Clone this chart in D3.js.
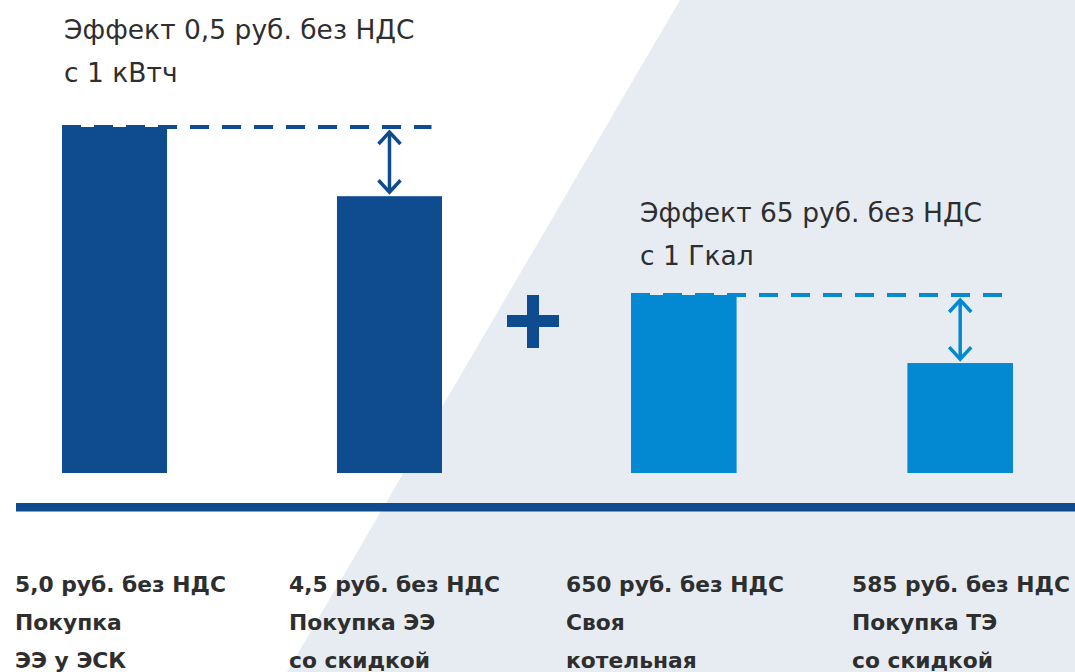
<!DOCTYPE html>
<html>
<head>
<meta charset="utf-8">
<style>
  html, body { margin: 0; padding: 0; background: #fff; }
  svg { display: block; }
</style>
</head>
<body>
<svg width="1075" height="672"></svg>
<script src="https://d3js.org/d3.v7.min.js"></script>
<script>
    // electricity: rub per kWh, heat: rub per Gcal (без НДС)
    const powerNames = ["Покупка ЭЭ у ЭСК", "Покупка ЭЭ со скидкой"];
    const powerValues = [5.0, 4.5];
    const heatNames = ["Своя котельная", "Покупка ТЭ со скидкой"];
    const heatValues = [650, 585];

    const effectTitles = [
        ["Эффект 0,5 руб. без НДС", "с 1 кВтч"],
        ["Эффект 65 руб. без НДС", "с 1 Гкал"]
    ];
    const bottomLabels = [
        ["5,0 руб. без НДС", "Покупка", "ЭЭ у ЭСК"],
        ["4,5 руб. без НДС", "Покупка ЭЭ", "со скидкой"],
        ["650 руб. без НДС", "Своя", "котельная"],
        ["585 руб. без НДС", "Покупка ТЭ", "со скидкой"]
    ];

    const darkBlue = "#0f4b8f",
        lightBlue = "#0388d2",
        textColor = "#2e2e2e";

    const svg = d3.select("svg"),
        width = +svg.attr("width"),
        height = +svg.attr("height");

    // light diagonal panel
    svg.append("path")
        .attr("d", "M680,0L" + width + ",0L" + width + "," + height + "L287," + height + "Z")
        .attr("fill", "#e7ecf3");

    const baseY = 473;

    const yPower = d3.scaleLinear().domain([2.5, 5.0]).range([baseY, 127]);
    const yHeat = d3.scaleLinear().domain([480, 650]).range([baseY, 295]);

    const xPower = d3.scaleBand().domain(powerNames).range([62, 442]).paddingInner(0.618);
    const xHeat = d3.scaleBand().domain(heatNames).range([631, 1013]).paddingInner(0.618);

    function drawGroup(names, values, x, y, color, title, titleY, titleX) {
        const g = svg.append("g");

        g.selectAll("rect.bar")
            .data(values)
            .enter().append("rect")
            .attr("class", "bar")
            .attr("x", (d, i) => x(names[i]))
            .attr("y", d => y(d))
            .attr("width", x.bandwidth())
            .attr("height", d => baseY - y(d))
            .attr("fill", color);

        const top = y(values[0]),
            low = y(values[1]),
            ax = x(names[1]) + x.bandwidth() / 2;

        g.append("line")
            .attr("x1", x(names[0]))
            .attr("x2", ax + 42)
            .attr("y1", top)
            .attr("y2", top)
            .attr("stroke", color)
            .attr("stroke-width", 4)
            .attr("stroke-dasharray", "19,13");

        // double arrow showing the saving
        const a1 = top + 5, a2 = low - 4;
        g.append("line")
            .attr("x1", ax).attr("x2", ax)
            .attr("y1", a1 + 2).attr("y2", a2 - 2)
            .attr("stroke", color)
            .attr("stroke-width", 3.5);
        g.append("path")
            .attr("d", "M" + (ax - 11) + "," + (a1 + 12) + "L" + ax + "," + a1 + "L" + (ax + 11) + "," + (a1 + 12) +
                "M" + (ax - 11) + "," + (a2 - 12) + "L" + ax + "," + a2 + "L" + (ax + 11) + "," + (a2 - 12))
            .attr("fill", "none")
            .attr("stroke", color)
            .attr("stroke-width", 3.5);

        g.selectAll("text.title")
            .data(title)
            .enter().append("text")
            .attr("class", "title")
            .attr("x", titleX)
            .attr("y", (d, i) => titleY + i * 43)
            .attr("font-family", "DejaVu Sans")
            .attr("font-size", 26.5)
            .attr("fill", textColor)
            .text(d => d);
    }

    drawGroup(powerNames, powerValues, xPower, yPower, darkBlue, effectTitles[0], 39, 64);
    drawGroup(heatNames, heatValues, xHeat, yHeat, lightBlue, effectTitles[1], 222, 640);

    // plus sign between groups
    svg.append("rect").attr("x", 507).attr("y", 315).attr("width", 52).attr("height", 12).attr("fill", darkBlue);
    svg.append("rect").attr("x", 527).attr("y", 295).attr("width", 12).attr("height", 53).attr("fill", darkBlue);

    // base line
    svg.append("rect")
        .attr("x", 16)
        .attr("y", 503)
        .attr("width", width - 16)
        .attr("height", 8.5)
        .attr("fill", darkBlue);

    const xLabel = d3.scaleOrdinal().domain(d3.range(bottomLabels.length)).range([15, 289, 566, 852]);

    const lab = svg.selectAll("g.lab")
        .data(bottomLabels)
        .enter().append("g")
        .attr("class", "lab")
        .attr("transform", (d, i) => "translate(" + xLabel(i) + ",592)");

    lab.selectAll("text")
        .data(d => d)
        .enter().append("text")
        .attr("y", (d, i) => i * 38)
        .attr("font-family", "DejaVu Sans")
        .attr("font-weight", "bold")
        .attr("font-size", 21.8)
        .attr("fill", textColor)
        .text(d => d);
</script>
</body>
</html>
